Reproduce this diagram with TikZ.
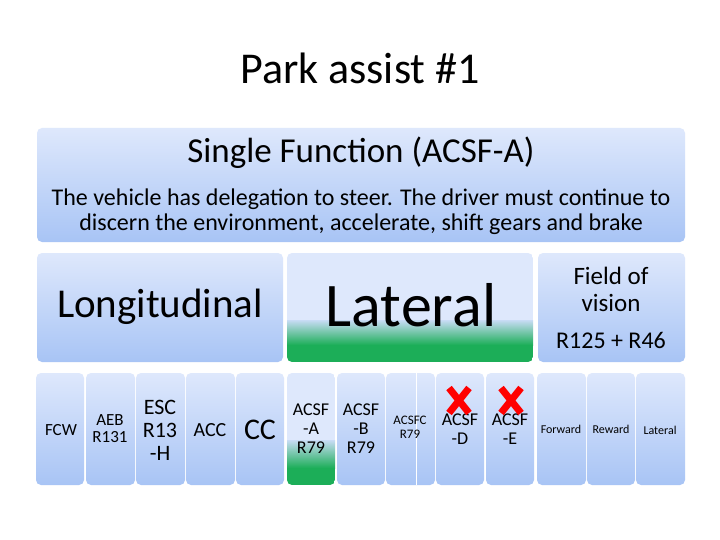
\documentclass[tikz,border=0pt]{standalone}
\usepackage{fontspec}
\setmainfont{Carlito}
\definecolor{ltop}{RGB}{222,232,252}
\definecolor{lbot}{RGB}{168,196,245}
\definecolor{gmid}{RGB}{200,220,245}
\definecolor{gbot}{RGB}{28,174,88}
\begin{document}
\begin{tikzpicture}[x=1pt,y=-1pt,
 bx/.style={rounded corners=5pt,top color=ltop,bottom color=lbot,draw=none},
 t/.style={align=center,inner sep=0pt,text=black},
 cross/.style={draw=red,line width=7pt}]
\useasboundingbox (0,0) rectangle (720,540);
\fill[white] (0,0) rectangle (720,540);
\node[t,font=\fontsize{44}{48}\selectfont] (title) at (360,68) {Park assist \#1};
% top box
\path[bx] (37,128) rectangle (685,242);
\node[t,font=\fontsize{35}{40}\selectfont] (sf) at (361,153) {Single Function (ACSF-A)};
\node[t,font=\fontsize{24}{25}\selectfont] (desc) at (361,212) {The vehicle has delegation to steer. The driver must continue to\\discern the environment, accelerate, shift gears and brake};
% middle
\path[bx] (37,253) rectangle (283,362);
\node[t,font=\fontsize{41}{44}\selectfont] (lon) at (160,307) {Longitudinal};
\begin{scope}
\clip[rounded corners=5pt] (287,253) rectangle (533,362);
\fill[ltop] (287,253) rectangle (533,320);
\shade[top color=gmid,bottom color=gbot] (287,320) rectangle (533,345);
\fill[gbot] (287,344.5) rectangle (533,362);
\end{scope}
\node[t,font=\fontsize{62}{64}\selectfont] (lat) at (411,305) {Lateral};
\path[bx] (538,253) rectangle (685,362);
\node[t,font=\fontsize{25}{27}\selectfont] (fov) at (611,289) {Field of\\vision};
\node[t,font=\fontsize{24}{26}\selectfont] (r125) at (611,340) {R125 + R46};
% bottom
\foreach \a/\b in {36/84,86/135,136/185,186/235,236/284,337/385,386/435,436/484,486/534,537/586,587/635,636/685}{
 \path[bx] (\a,373) rectangle (\b,485);}
\draw[white,line width=0.8pt] (416,373) -- (416,485);
\begin{scope}
\clip[rounded corners=5pt] (287,373) rectangle (335,485);
\fill[ltop] (287,373) rectangle (335,440);
\shade[top color=gmid,bottom color=gbot] (287,440) rectangle (335,468);
\fill[gbot] (287,467.5) rectangle (335,485);
\end{scope}
\node[t,font=\fontsize{17}{19}\selectfont] (fcw) at (61,430) {FCW};
\node[t,font=\fontsize{17}{17}\selectfont] (aeb) at (110,429) {AEB\\R131};
\node[t,font=\fontsize{22}{23}\selectfont] (esc) at (160,430) {ESC\\R13\\-H};
\node[t,font=\fontsize{20}{22}\selectfont] (acc) at (210,430) {ACC};
\node[t,font=\fontsize{30}{32}\selectfont] (cc) at (260,430) {CC};
\node[t,font=\fontsize{18}{19}\selectfont] (a) at (311,429) {ACSF\\-A\\R79};
\node[t,font=\fontsize{18}{19}\selectfont] (b) at (361,429) {ACSF\\-B\\R79};
\node[t,font=\fontsize{13}{14}\selectfont] (c) at (410,427) {ACSFC\\R79};
\node[t,font=\fontsize{18}{19}\selectfont] (d) at (460,429) {ACSF\\-D};
\node[t,font=\fontsize{18}{19}\selectfont] (e) at (510,429) {ACSF\\-E};
\node[t,font=\fontsize{12}{14}\selectfont] (fw) at (561,429) {Forward};
\node[t,font=\fontsize{12}{14}\selectfont] (rw) at (611,429) {Reward};
\node[t,font=\fontsize{12}{14}\selectfont] (lt) at (660,430) {Lateral};
\foreach \cx in {459,511}{
 \draw[cross] (\cx-10,388) -- (\cx+10,413);
 \draw[cross] (\cx+10,388) -- (\cx-10,413);}
\end{tikzpicture}
\end{document}
